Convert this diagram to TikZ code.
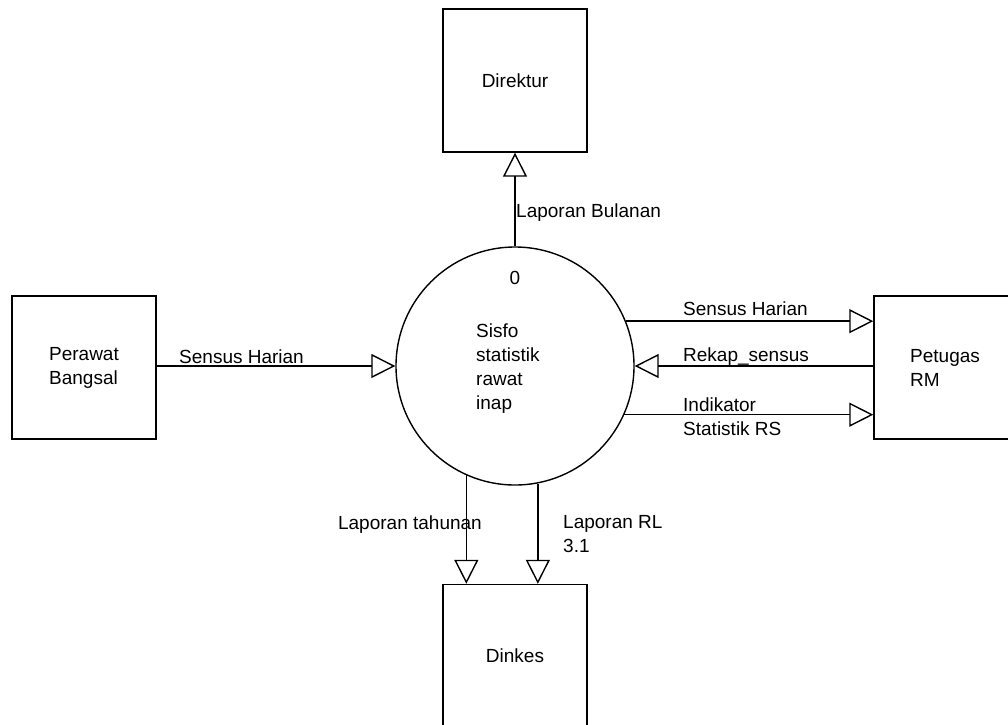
\documentclass[tikz,border=0pt]{standalone}
\usepackage{fontspec}
\setmainfont{Liberation Sans}
\usetikzlibrary{arrows.meta}
\tikzset{
	entitas/.style={draw, line width=1.4pt, minimum width=144pt, minimum height=143pt, inner sep=0pt},
	proses/.style={draw, circle, line width=1.4pt, minimum size=238pt, inner sep=0pt},
	aliran/.style={line width=1.4pt, -{Triangle[open, length=24pt, width=24pt, line width=1.4pt]}},
	teks/.style={inner sep=0pt, align=left, font=\fontsize{19}{24}\selectfont}
}

\begin{document}
\begin{tikzpicture}[x=1pt, y=-1pt]
		%%%%% START %%%%%
		\useasboundingbox (0, 0) rectangle (1008, 724);
		
		\node[entitas] (direktur) at (515, 80.5) {};
		\node[entitas] (perawat) at (84, 367.5) {};
		\node[entitas] (petugas) at (946, 367.5) {};
		\node[entitas] (dinkes) at (515, 656) {};
		\node[proses] (sisfo) at (515, 366) {};
		
		\node[teks] at (direktur) {Direktur};
		\node[teks] at (perawat) {Perawat\\Bangsal};
		\node[teks, anchor=west] at (910, 367.5) {Petugas\\RM};
		\node[teks] at (dinkes) {Dinkes};
		\node[teks] (nomor) at (515, 278) {0};
		\node[teks, anchor=west] (namaproses) at (476, 369) {Sisfo\\statistik\\rawat\\inap};
		
		\draw[aliran] (sisfo.north) -- (direktur.south);
		\draw[aliran] (perawat.east |- sisfo.west) -- (sisfo.west);
		\draw[aliran] (sisfo.22.7) -- (petugas.west |- sisfo.22.7);
		\draw[aliran] (petugas.west |- sisfo.east) -- (sisfo.east);
		\draw[aliran] (sisfo.-24.8) -- (petugas.west |- sisfo.-24.8);
		\draw[aliran] (sisfo.246.2) -- (sisfo.246.2 |- dinkes.north);
		\draw[aliran] (sisfo.281.6) -- (sisfo.281.6 |- dinkes.north);
		
		\node[teks, anchor=west] at (516, 213) {Laporan Bulanan};
		\node[teks, anchor=west] at (179, 357) {Sensus Harian};
		\node[teks, anchor=west] at (683, 309) {Sensus Harian};
		\node[teks, anchor=west] at (683, 357) {Rekap\_sensus};
		\node[teks, anchor=west] at (683, 416.5) {Indikator\\Statistik RS};
		\node[teks, anchor=east] at (482, 525) {Laporan tahunan};
		\node[teks, anchor=west] at (563, 534) {Laporan RL\\3.1};
		%%%%% END %%%%%
	\end{tikzpicture}
\end{document}
